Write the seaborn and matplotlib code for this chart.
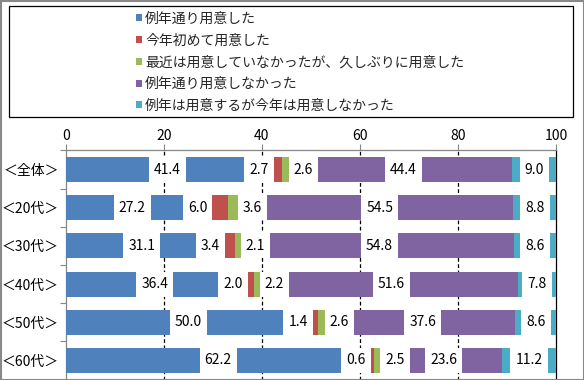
import numpy as np
import pandas as pd
import matplotlib
matplotlib.use("Agg")
import matplotlib.pyplot as plt
from matplotlib.patches import Patch, Rectangle
import seaborn as sns

categories = ["＜全体＞", "＜20代＞", "＜30代＞", "＜40代＞", "＜50代＞", "＜60代＞"]
series_names = ["例年通り用意した", "今年初めて用意した", "最近は用意していなかったが、久しぶりに用意した",
                "例年通り用意しなかった", "例年は用意するが今年は用意しなかった"]
s1 = [41.4, 27.2, 31.1, 36.4, 50.0, 62.2]
s2 = [2.7, 6.0, 3.4, 2.0, 1.4, 0.6]
s3 = [2.6, 3.6, 2.1, 2.2, 2.6, 2.5]
s4 = [44.4, 54.5, 54.8, 51.6, 37.6, 23.6]
s5 = [9.0, 8.8, 8.6, 7.8, 8.6, 11.2]
colors = ["#4F81BD", "#C0504D", "#9BBB59", "#8064A2", "#4BACC6"]
label_shift = [0.0, -3.3, 3.1, 0.0, 0.0]  # label offsets (data units)

sns.set_theme(style="white")
plt.rcParams["font.family"] = ["Noto Sans CJK JP", "DejaVu Sans"]

W, H = 584, 380
fig = plt.figure(figsize=(W / 100, H / 100), dpi=100)
x0, x1 = 65.7, 556.0
ytop, ybot = 150.4, 379.6
ax = fig.add_axes([x0 / W, (H - ybot) / H, (x1 - x0) / W, (ybot - ytop) / H])

vals = np.array([s1, s2, s3, s4, s5])
cums = np.cumsum(vals, axis=0)
starts = cums - vals
bar_h = 0.655

df = pd.DataFrame({"cat": categories})
for i in range(4, -1, -1):
    df["v"] = cums[i]
    sns.barplot(data=df, x="v", y="cat", orient="h", color=colors[i], width=bar_h,
                saturation=1, ax=ax, zorder=3, linewidth=0)

ax.set_xlim(0, 100)
ax.set_ylim(5.5, -0.5)
ax.set_xlabel("")
ax.set_ylabel("")

# gridlines
for gx in [20, 40, 60, 80]:
    ax.axvline(gx, color="black", lw=0.9, ls=(0, (3, 2)), zorder=1)

# top axis
ax.xaxis.tick_top()
ax.set_xticks([0, 20, 40, 60, 80, 100])
ax.set_xticklabels(["0", "20", "40", "60", "80", "100"])
ax.tick_params(axis="x", which="major", direction="out", length=4, width=0.8,
               color="#868686", labelsize=10, pad=1.5, labelcolor="black", top=True, bottom=False)
ax.set_yticks(range(len(categories)))
ax.set_yticklabels(categories)
ax.tick_params(axis="y", which="major", length=0, labelsize=10, pad=5, labelcolor="black")
ax.set_yticks(np.arange(-0.5, 6.0, 1.0), minor=True)
ax.tick_params(axis="y", which="minor", direction="out", length=4, width=0.8,
               color="#868686", left=True)
for side in ["top", "left"]:
    ax.spines[side].set_color("#868686")
    ax.spines[side].set_linewidth(0.9)
ax.spines["right"].set_color("black")
ax.spines["right"].set_linewidth(0.9)
ax.spines["bottom"].set_visible(False)

# data labels
texts = []
for i in range(5):
    for j in range(len(categories)):
        xc = starts[i, j] + vals[i, j] / 2 + label_shift[i]
        t = ax.text(xc, j, f"{vals[i, j]:.1f}", ha="center", va="center",
                    fontsize=10, color="black", zorder=6)
        texts.append((t, xc, j))

fig.canvas.draw()
r = fig.canvas.get_renderer()
px_per_unit = (x1 - x0) / 100.0
pad_px = 5.0
for t, xc, j in texts:
    bb = t.get_window_extent(renderer=r)
    wd = (bb.width + 2 * pad_px) / px_per_unit
    ax.add_patch(Rectangle((xc - wd / 2, j - bar_h / 2), wd, bar_h, facecolor="white",
                           edgecolor="none", zorder=5))

# legend
handles = [Patch(facecolor=c, edgecolor="none") for c in colors]
fig.legend(handles, series_names, loc="upper left", bbox_to_anchor=(126 / W, 1 - 2 / H),
           frameon=False, fontsize=10, handlelength=0.42, handleheight=0.42,
           handletextpad=0.25, labelspacing=0.56, borderpad=0.2)
fig.add_artist(Rectangle((9 / W, 1 - 117 / H), (573 - 9) / W, (117 - 6) / H,
                         transform=fig.transFigure, facecolor="none", edgecolor="black", lw=0.9))
fig.add_artist(Rectangle((0.5 / W, 0.5 / H), (W - 1) / W, (H - 1) / H,
                         transform=fig.transFigure, facecolor="none", edgecolor="#888888", lw=1.5))

fig.savefig("out.png", dpi=100)
